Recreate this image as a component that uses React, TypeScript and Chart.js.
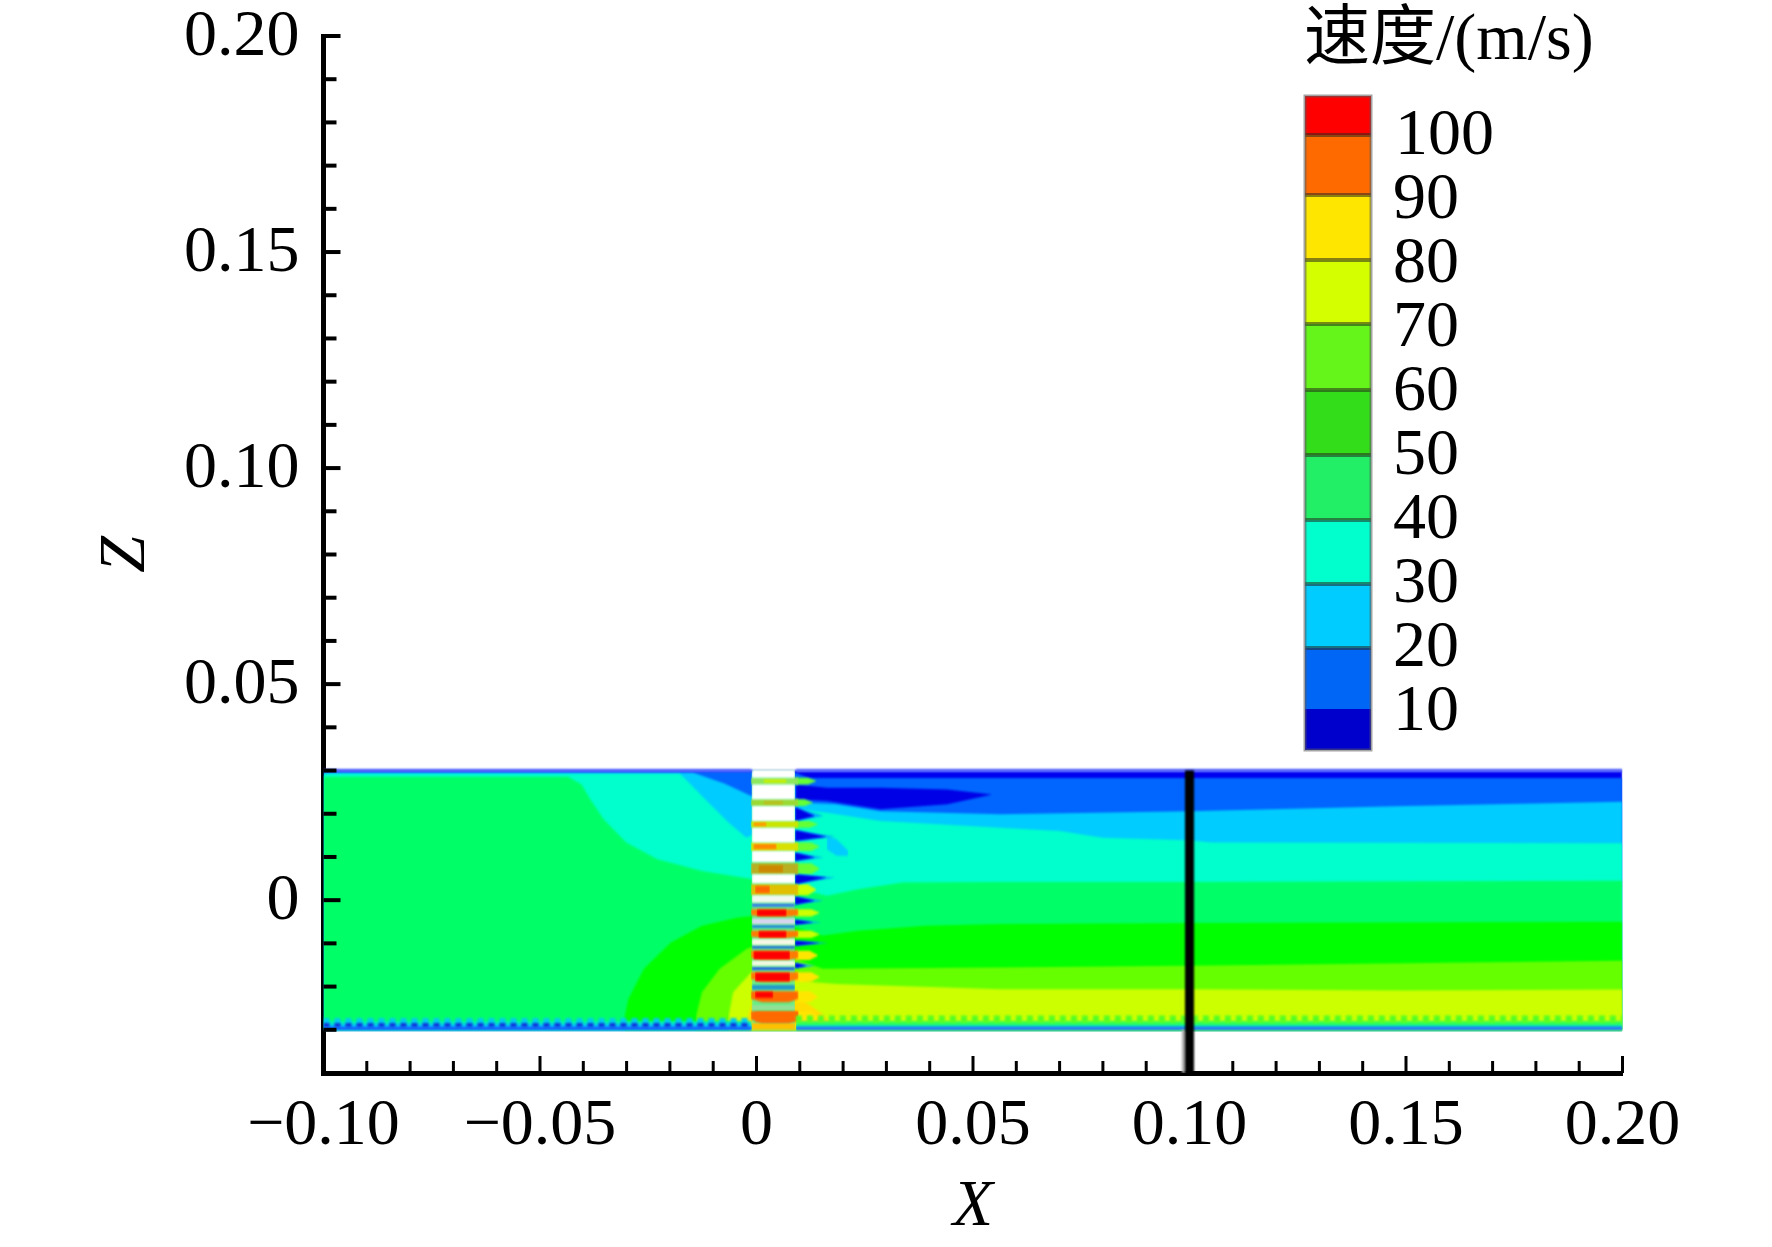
import React, { useEffect, useRef } from "react";
import { Chart, registerables } from "chart.js";

Chart.register(...registerables);

const SERIF = "'Liberation Serif', 'Noto Sans CJK SC', serif";
const FIELD_TOP = 0.03;
const FIELD_BOTTOM = -0.03;
const X_MIN = -0.1;
const X_MAX = 0.2;

// Contour levels: every curve gives the upper edge of a speed band, filled down to the wall
const level0X = [-0.1, 0.2];
const level0Z = [0.03, 0.03];

const blueX = [-0.1, -0.0146, -0.0012, 0.0091, 0.012, 0.2];
const blueZ = [0.0298, 0.0298, 0.0298, 0.0295, 0.0283, 0.0283];

const lightBlueX = [-0.1, -0.0146, -0.0074, -0.0012, 0.0091, 0.0184, 0.0287, 0.0563, 0.1, 0.15, 0.2];
const lightBlueZ = [0.0295, 0.0295, 0.027, 0.0241, 0.0226, 0.0222, 0.0206, 0.0199, 0.0206, 0.0218, 0.0228];

const cyanX = [-0.1, -0.0177, -0.0167, -0.0126, -0.0064, -0.0023, 0.0101, 0.0163, 0.0287, 0.0563, 0.07, 0.08, 0.1, 0.105, 0.2];
const cyanZ = [0.02925, 0.02925, 0.02833, 0.0241, 0.01794, 0.01447, 0.021, 0.02025, 0.01832, 0.01678, 0.01601, 0.01447, 0.01386, 0.01332, 0.01316];

const springX = [-0.1, -0.0435, -0.0404, -0.0384, -0.0353, -0.0301, -0.0229, -0.0126, -0.0033, 0.0039, 0.0163, 0.0235, 0.0338, 0.0563, 0.1, 0.2];
const springZ = [0.02856, 0.02856, 0.02679, 0.02333, 0.01871, 0.01332, 0.00947, 0.00677, 0.00523, 0.00408, 0.001, 0.00254, 0.00408, 0.00423, 0.00423, 0.00447];

const greenX = [-0.0306, -0.0304, -0.0296, -0.026, -0.0198, -0.0126, -0.0043, -0.0002, 0.0153, 0.0235, 0.039, 0.0563, 0.1, 0.2];
const greenZ = [-0.0298, -0.0267, -0.0229, -0.0159, -0.0098, -0.0059, -0.004, -0.0036, -0.0082, -0.0071, -0.0059, -0.0055, -0.0053, -0.005];

const limeX = [-0.0141, -0.0139, -0.0126, -0.0085, -0.0023, -0.0002, 0.0153, 0.0563, 0.1, 0.2];
const limeZ = [-0.0298, -0.0267, -0.0213, -0.0159, -0.0113, -0.0105, -0.0159, -0.0156, -0.0152, -0.014];

const yellowGreenX = [-0.0066, -0.0064, -0.0054, -0.0012, 0.0008, 0.0132, 0.0184, 0.0563, 0.1, 0.15, 0.2];
const yellowGreenZ = [-0.0298, -0.0267, -0.0213, -0.0167, -0.0152, -0.019, -0.0194, -0.0206, -0.0206, -0.0209, -0.0207];

const yellowPatchX = [-0.00227, -0.00073, 0.01005, 0.01466, 0.01775];
const yellowPatchZ = [-0.02825, -0.02271, -0.02271, -0.02594, -0.029];

// Wall layers, left and right of the perforated column
const wallLeftX = [-0.1, -0.0011];
const wallRightX = [0.0091, 0.2];
const wallLeftLevels = [-0.02795, -0.02871, -0.02933];
const wallRightLevels = [-0.02795, -0.02887, -0.02933];
const wallLeftColors = ["#00f5b0", "#00c0ff", "#1a55ff"];
const wallRightColors = ["#33ff55", "#00e0c0", "#3366ff"];

// Recirculation blob behind the column
const blobX = [0.0091, 0.0163, 0.0287, 0.0441, 0.0544];
const blobTop = [0.02679, 0.02602, 0.02602, 0.02564, 0.02448];
const blobBottom = [0.02333, 0.02294, 0.02102, 0.02217, 0.02448];

// Small light-blue loop next to the column
const loopX = [0.0162, 0.01851, 0.02121];
const loopTop = [0.0148, 0.0141, 0.0114];
const loopBottom = [0.0118, 0.0103, 0.0103];

// Perforated column
const columnX = [-0.0011, 0.0089];
const mainX = [-0.0013, 0.0012, 0.0075, 0.0097];
const footTop = [-0.0284, -0.0284];
const footBottom = [-0.03, -0.03];
const gapTop = [0.0302, 0.02679, 0.02179, 0.01678, 0.01139, 0.006, 0.00115, -0.00423, -0.00901, -0.01401];
const gapBottom = [0.02833, 0.02333, 0.01832, 0.01332, 0.00885, 0.00393, -0.00054, -0.00554, -0.01039, -0.01517];
const gapColors = ["#ffffff", "#ffffff", "#ffffff", "#ffffff", "#ffffff", "#ffffff", "#f2f8f0", "#d8d4f0", "#f4f8e4", "#f4f8e4"];

const thinTop = [-0.00077, -0.00577, -0.01055, -0.01555, -0.01963, -0.0244];
const thinBottom = [-0.00154, -0.00647, -0.01116, -0.01617, -0.02071, -0.02533];
const thinColors = ["#3377ee", "#2288dd", "#2266dd", "#2255ee", "#2299cc", "#99dd99"];

const stripTop = [0.02833, 0.02333, 0.01832, 0.01332, 0.00855, 0.0037, -0.00208, -0.00708, -0.0117, -0.01671, -0.02109, -0.02571];
const stripBottom = [0.02679, 0.02179, 0.01678, 0.01139, 0.006, 0.00115, -0.00377, -0.00878, -0.01386, -0.01886, -0.02363, -0.02841];
const stripBow = [0, 0, 0, 0, 0, 0, 0.0003, 0.0004, 0.0005, 0.0006, 0.0008, 0.0008];
const tailEnd = [0.0139, 0.01313, 0.01428, 0.01466, 0.01466, 0.0139, 0.01466, 0.01466, 0.01428, 0.01466, 0.01428, 0.01466];
const tailColors = ["#66ff33", "#66ff33", "#66ff33", "#66ff33", "#66ff33", "#ccff00", "#ccff00", "#ccff00", "#ffe600", "#ffe600", "#ffe600", "#ffe600"];
const mainColors = ["#8fe85a", "#9ada33", "#c8e600", "#d8e000", "#b8b020", "#e0c000", "#ff7a00", "#ff7a00", "#ff7a00", "#ff7a00", "#ff6a00", "#ff6a00"];
const coreColors = ["#c8f000", "#b8c020", "#ff9900", "#ff8800", "#cc8800", "#ff6600", "#ff0000", "#ff0000", "#ff0000", "#ff0000", "#ff0000", "#ff6a00"];
const coreLeft = [0.00158, 0.00158, -0.00073, -0.00073, 0.00042, -0.00035, 0.00004, 0.00042, -0.00073, -0.00035, -0.00035, -0.00035];
const coreRight = [0.00697, 0.0062, 0.00235, 0.00466, 0.0062, 0.00312, 0.00697, 0.00697, 0.00774, 0.00774, 0.00389, 0.00966];
const coreTop = [0.02794, 0.02302, 0.01801, 0.01301, 0.00808, 0.00331, -0.00218, -0.00718, -0.0118, -0.0168, -0.0212, -0.02594];
const coreBottom = [0.02717, 0.02209, 0.01709, 0.01178, 0.00639, 0.00162, -0.00367, -0.00868, -0.01376, -0.01876, -0.0226, -0.0281];

// Blue wakes on the lee side of the holes
const wakeStart = 0.0089;
const wakeTop = [0.02156, 0.01624, 0.01101, 0.006, 0.00085, -0.00454, -0.00939, -0.01455];
const wakeBottom = [0.01832, 0.0137, 0.00908, 0.0037, -0.00108, -0.0057, -0.01055, -0.01578];
const wakeTip = [0.01948, 0.0147, 0.00985, 0.00523, -0.00015, -0.00516, -0.00993, -0.01517];
const wakeEnd = [0.01351, 0.0162, 0.01351, 0.0162, 0.01351, 0.01313, 0.01466, 0.01159];

// Baffle at x = 0.10
const baffleX = [0.1, 0.1];
const baffleZ = [0.03, -0.04];
const baffleShadeX = [0.0987, 0.0987];
const baffleShadeZ = [-0.03, -0.04];

// Colour bar
const legendColors = ["#ff0000", "#ff6a00", "#ffe600", "#d4ff00", "#66f51a", "#33dd1a", "#22ee66", "#00ffcc", "#00ccff", "#0066f5", "#0000cc"];
const legendLabels = ["100", "90", "80", "70", "60", "50", "40", "30", "20", "10"];
const legendEdges = [96, 135, 195, 260, 324, 390, 455, 520, 584, 648, 709, 750];

const AXIS_X = [-0.1, 0.2];
const MAJOR_STEP = 0.05;
const MINOR_STEP = 0.01;

const pts = (xs: number[], zs: number[]) => xs.map((x, i) => ({ x, y: zs[i] }));
const base = { showLine: true, pointRadius: 0, borderWidth: 0, borderColor: "transparent" };

type Group = any[];
const groups: Group[] = [];

const below = (xs: number[], zs: number[], color: string) =>
  groups.push([{ ...base, data: pts(xs, zs), backgroundColor: color, fill: { value: FIELD_BOTTOM } }]);

const between = (xs: number[], top: number[], bottom: number[], color: string) =>
  groups.push([
    { ...base, data: pts(xs, top), backgroundColor: color, fill: "+1" },
    { ...base, data: pts(xs, bottom), fill: false },
  ]);

const line = (xs: number[], zs: number[], color: string, width: number, dash: number[] = []) =>
  groups.push([{ ...base, data: pts(xs, zs), borderColor: color, borderWidth: width, borderDash: dash, fill: false }]);

below(level0X, level0Z, "#0000f0");
below(blueX, blueZ, "#0066ff");
below(lightBlueX, lightBlueZ, "#00ccff");
below(cyanX, cyanZ, "#00ffcc");
below(springX, springZ, "#00ff66");
below(greenX, greenZ, "#00ff00");
below(limeX, limeZ, "#66ff00");
below(yellowGreenX, yellowGreenZ, "#ccff00");
below(yellowPatchX, yellowPatchZ, "#ffdd00");

between(loopX, loopTop, loopBottom, "#00ccff");
line([0.0155, 0.0265], [-0.0021, -0.0021], "#00ff66", 6, [6, 9]);
between(blobX, blobTop, blobBottom, "#0000e6");

// column base
between(columnX, [FIELD_TOP, FIELD_TOP], [FIELD_BOTTOM, FIELD_BOTTOM], "#66ee88");

tailEnd.forEach((end, i) => {
  const mid = (stripTop[i] + stripBottom[i]) / 2;
  between(
    [columnX[1], end - 0.002, end],
    [stripTop[i], stripTop[i], mid],
    [stripBottom[i], stripBottom[i], mid],
    tailColors[i],
  );
});
wakeEnd.forEach((end, i) => {
  between([wakeStart, end + 0.002], [wakeTop[i], wakeTip[i]], [wakeBottom[i], wakeTip[i]], "#00aaff");
  between([wakeStart, end], [wakeTop[i], wakeTip[i]], [wakeBottom[i], wakeTip[i]], "#0000e6");
});
between(columnX, footTop, footBottom, "#ffc000");
thinTop.forEach((t, i) => between(columnX, [t, t], [thinBottom[i], thinBottom[i]], thinColors[i]));
stripTop.forEach((t, i) => {
  const b = stripBottom[i];
  const edge = b + stripBow[i];
  between(mainX, [t, t, t, t], [edge, b, b, edge], mainColors[i]);
  between([coreLeft[i], coreRight[i]], [coreTop[i], coreTop[i]], [coreBottom[i], coreBottom[i]], coreColors[i]);
});
gapTop.forEach((t, i) => between(columnX, [t, t], [gapBottom[i], gapBottom[i]], gapColors[i]));

wallLeftLevels.forEach((z, i) => below(wallLeftX, [z, z], wallLeftColors[i]));
wallRightLevels.forEach((z, i) => below(wallRightX, [z, z], wallRightColors[i]));
line(wallLeftX, [-0.02795, -0.02795], "#00ccee", 6, [6, 5]);
line(wallLeftX, [-0.02887, -0.02887], "#1133dd", 4, [6, 5]);
line(wallRightX, [-0.02748, -0.02748], "#55ff22", 7, [6, 5]);

line([AXIS_X[0], columnX[0]], [FIELD_TOP, FIELD_TOP], "#5566ff", 3);
line(wallRightX, [FIELD_TOP, FIELD_TOP], "#5566ff", 3);
line(baffleShadeX, baffleShadeZ, "#aaaaaa", 4);
line(baffleX, baffleZ, "#000000", 9);

const datasets = [...groups].reverse().flat();

const isMajor = (v: number) => Math.abs(v / MAJOR_STEP - Math.round(v / MAJOR_STEP)) < 1e-6;
const fmt = (v: number) => {
  if (!isMajor(v)) return "";
  if (Math.abs(v) < 1e-9) return "0";
  return (v < 0 ? "\u2212" : "") + Math.abs(v).toFixed(2);
};

const softField = {
  id: "softField",
  beforeDatasetsDraw(chart: any) {
    chart.ctx.filter = "blur(1.1px)";
  },
  afterDatasetsDraw(chart: any) {
    chart.ctx.filter = "none";
  },
};

const tickMarks = {
  id: "tickMarks",
  afterDatasetsDraw(chart: any) {
    const { ctx, scales, chartArea } = chart;
    ctx.save();
    ctx.filter = "none";
    ctx.strokeStyle = "#000";
    ctx.lineWidth = 3;
    scales.x.ticks.forEach((t: any) => {
      const px = scales.x.getPixelForValue(t.value);
      ctx.beginPath();
      ctx.moveTo(px, chartArea.bottom);
      ctx.lineTo(px, chartArea.bottom - (isMajor(t.value) ? 17 : 12));
      ctx.stroke();
    });
    ctx.lineWidth = 4;
    scales.y.ticks.forEach((t: any) => {
      const py = scales.y.getPixelForValue(t.value);
      ctx.beginPath();
      ctx.moveTo(chartArea.left, py);
      ctx.lineTo(chartArea.left + (isMajor(t.value) ? 17 : 13), py);
      ctx.stroke();
    });
    ctx.restore();
  },
};

const colourBar = {
  id: "colourBar",
  afterDraw(chart: any) {
    const { ctx } = chart;
    const left = 1305;
    const width = 66;
    ctx.save();
    legendColors.forEach((c, i) => {
      ctx.fillStyle = c;
      ctx.fillRect(left, legendEdges[i], width, legendEdges[i + 1] - legendEdges[i]);
    });
    ctx.strokeStyle = "rgba(40,40,30,0.55)";
    ctx.lineWidth = 4;
    legendEdges.slice(1, -2).forEach((y) => {
      ctx.beginPath();
      ctx.moveTo(left, y);
      ctx.lineTo(left + width, y);
      ctx.stroke();
    });
    ctx.lineWidth = 3;
    ctx.strokeStyle = "rgba(90,90,90,0.55)";
    ctx.strokeRect(left, legendEdges[0], width, legendEdges[legendEdges.length - 1] - legendEdges[0]);
    ctx.fillStyle = "#000";
    ctx.textAlign = "left";
    ctx.textBaseline = "alphabetic";
    ctx.font = `66px ${SERIF}`;
    legendLabels.forEach((label, i) => {
      ctx.fillText(label, label === "100" ? 1395 : 1393, 154 + i * 64);
    });
    ctx.fillText("\u901f\u5ea6/(m/s)", 1304, 59);
    ctx.restore();
  },
};

const noEdgePadding = (s: any) => {
  s.paddingTop = 0;
  s.paddingBottom = 0;
  s.paddingLeft = 0;
  s.paddingRight = 0;
};

export default function App() {
  const ref = useRef<HTMLCanvasElement | null>(null);
  useEffect(() => {
    const chart = new Chart(ref.current as HTMLCanvasElement, {
      type: "scatter",
      data: { datasets },
      plugins: [softField, tickMarks, colourBar],
      options: {
        animation: false,
        responsive: false,
        devicePixelRatio: 1,
        events: [],
        layout: { padding: { top: 36, right: 149.5, bottom: 0, left: 0 } },
        plugins: { legend: { display: false }, tooltip: { enabled: false }, title: { display: false } },
        elements: { line: { tension: 0 } },
        scales: {
          x: {
            type: "linear",
            min: X_MIN,
            max: X_MAX,
            afterFit: (s: any) => {
              s.height = 174;
              noEdgePadding(s);
            },
            grid: { display: false, drawTicks: false },
            border: { display: true, color: "#000", width: 5 },
            ticks: {
              stepSize: MINOR_STEP,
              autoSkip: false,
              maxRotation: 0,
              minRotation: 0,
              padding: 21,
              color: "#000",
              font: { family: SERIF, size: 66, lineHeight: 1 },
              callback: (v: any) => fmt(Number(v)),
            },
            title: {
              display: true,
              text: "X",
              color: "#000",
              font: { family: SERIF, size: 66, style: "italic", lineHeight: 1 },
              padding: { top: 0, bottom: 6 },
            },
          },
          y: {
            type: "linear",
            min: -0.04,
            max: 0.2,
            afterFit: (s: any) => {
              s.width = 323.5;
              noEdgePadding(s);
            },
            grid: { display: false, drawTicks: false },
            border: { display: true, color: "#000", width: 5 },
            ticks: {
              stepSize: MINOR_STEP,
              autoSkip: false,
              padding: 24,
              labelOffset: 2,
              color: "#000",
              font: { family: SERIF, size: 66, lineHeight: 1 },
              callback: (v: any) => fmt(Number(v)),
            },
            title: {
              display: true,
              text: "Z",
              color: "#000",
              font: { family: SERIF, size: 66, style: "italic", lineHeight: 1 },
              padding: { top: 94, bottom: 0 },
            },
          },
        },
      },
    } as any);
    return () => chart.destroy();
  }, []);
  return (
    <div style={{ position: "absolute", left: 0, top: 0, width: 1772, height: 1247, background: "#fff" }}>
      <canvas ref={ref} width={1772} height={1247} style={{ display: "block" }} />
    </div>
  );
}
